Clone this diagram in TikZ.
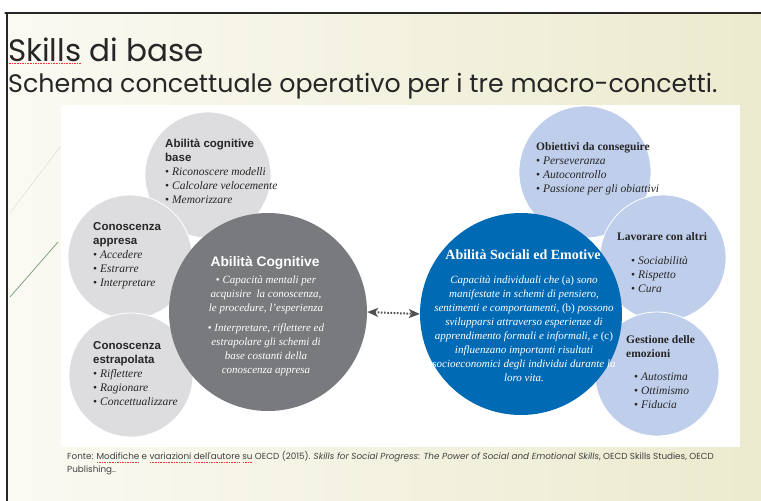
\documentclass[tikz,border=0pt]{standalone}
\usepackage{fontspec}
\setmainfont{Liberation Serif}
\newfontfamily\headfont{Liberation Sans}
\newfontfamily\slidefont{Poppins}
\usetikzlibrary{arrows.meta}
\definecolor{cogngray}{RGB}{121,122,125}
\definecolor{subgray}{RGB}{221,221,223}
\definecolor{socblue}{RGB}{0,106,181}
\definecolor{subblue}{RGB}{191,206,235}
\definecolor{slideleft}{RGB}{250,250,243}
\definecolor{slideright}{RGB}{236,234,206}
\definecolor{arrowgray}{RGB}{80,80,80}
\newcommand{\spellerr}[1]{\setbox0\hbox{#1}\leavevmode\rlap{\raisebox{-2.6pt}{\textcolor{red!80}{\hbox to \wd0{\xleaders\hbox to 1.6pt{\hss\rule{.8pt}{.5pt}\hss}\hfil}}}}\box0\relax}
\newcommand{\sanshead}[1]{{\headfont\bfseries #1}}
\newcommand{\bitem}[1]{\textbullet\ \textit{#1}}

\begin{document}
\begin{tikzpicture}[x=1pt,y=-1pt,line cap=round,line join=round,
  subc/.style={circle,inner sep=0pt,minimum size=#1,draw=white,line width=.8pt},
  maincirc/.style={circle,inner sep=0pt,minimum size=#1},
  sublabel/.style={inner sep=0pt,align=left,anchor=north west,text=black!85,font=\fontsize{11.5}{14}\selectfont},
  midlabel/.style={inner sep=0pt,align=center,anchor=north,text=white,font=\fontsize{11}{14}\selectfont}]
\path[use as bounding box] (0,0) rectangle (761,501);
\fill[white] (0,0) rectangle (761,501);
\shade[left color=slideleft,right color=slideright] (7,13) rectangle (761,501);
\draw[black!85,line width=1.3pt] (5,13) -- (761,13);
\draw[black!85,line width=1.3pt] (7,13) -- (7,501);
% theme strokes
\draw[black!12,line width=.6pt] (10,213) -- (60,147);
\draw[green!30!black!55,line width=.7pt] (10,297) -- (58,242);
% titles
\node[anchor=base west,inner sep=0pt,text=black!85,font=\slidefont\fontsize{31}{36}\selectfont] (title) at (8,61) {\spellerr{Skills} di base};
\node[anchor=base west,inner sep=0pt,text=black!85,font=\slidefont\fontsize{25.3}{30}\selectfont] (subtitle) at (8,92) {Schema concettuale operativo per i tre macro-concetti.};
% panel
\fill[white] (61,105) rectangle (740,447);
% cognitive side
\node[subc=126pt,fill=subgray] (cogbase) at (208,175) {};
\node[subc=124pt,fill=subgray] (knowacq) at (130,257) {};
\node[subc=124pt,fill=subgray] (knowext) at (131,375) {};
\node[maincirc=198pt,fill=cogngray] (cogn) at (268,312) {};
% social side
\node[subc=132pt,fill=subblue] (goals) at (585,172) {};
\node[subc=126pt,fill=subblue] (others) at (663,258) {};
\node[subc=124pt,fill=subblue] (emotions) at (657,374) {};
\node[maincirc=202pt,fill=socblue] (soc) at (521,314) {};
\draw[arrowgray,line width=2pt,dash pattern=on 1.6pt off 1.6pt,line cap=butt,
  {Stealth[length=11pt,width=9pt,inset=3pt]}-{Stealth[length=11pt,width=9pt,inset=3pt]}] (cogn.east) -- (soc.west);
% labels, cognitive
\node[sublabel] (cogbasetxt) at (165,139) {\sanshead{Abilità cognitive}\\\sanshead{base}\\\bitem{Riconoscere modelli}\\\bitem{Calcolare velocemente}\\\bitem{Memorizzare}};
\node[sublabel] (knowacqtxt) at (93,222) {\sanshead{Conoscenza}\\\sanshead{appresa}\\\bitem{Accedere}\\\bitem{Estrarre}\\\bitem{Interpretare}};
\node[sublabel] (knowexttxt) at (93,341) {\sanshead{Conoscenza}\\\sanshead{estrapolata}\\\bitem{Riflettere}\\\bitem{Ragionare}\\\bitem{Concettualizzare}};
\node[inner sep=0pt,text=white,font=\headfont\bfseries\fontsize{13.8}{16}\selectfont] (cogntitle) at (265,263) {Abilità Cognitive};
\node[midlabel] (cogntxt) at (266,276) {\textbullet\ \textit{Capacità mentali per}\\\textit{acquisire\ \ la conoscenza,}\\\textit{le procedure, l'esperienza}\\[6pt]\textbullet\ \textit{Interpretare, riflettere ed}\\\textit{estrapolare gli schemi di}\\\textit{base costanti della}\\\textit{conoscenza appresa}};
% labels, social
\node[sublabel] (goalstxt) at (536,142) {\textbf{Obiettivi da conseguire}\\\bitem{Perseveranza}\\\bitem{Autocontrollo}\\\bitem{Passione per gli obiattivi}};
\node[sublabel] (otherstitle) at (617,232) {\textbf{Lavorare con altri}};
\node[sublabel] (otherstxt) at (631,256) {\bitem{Sociabilità}\\\bitem{Rispetto}\\\bitem{Cura}};
\node[sublabel] (emotionstitle) at (626,335) {\textbf{Gestione delle}\\\textbf{emozioni}};
\node[sublabel] (emotionstxt) at (634,373) {\bitem{Autostima}\\\bitem{Ottimismo}\\\bitem{Fiducia}};
\node[inner sep=0pt,text=white,font=\bfseries\fontsize{14}{16}\selectfont] (soctitle) at (523,255) {Abilità Sociali ed Emotive};
\node[midlabel] (soctxt) at (524,276) {\textit{Capacità individuali che \textup{(a)} sono}\\\textit{manifestate in schemi di pensiero,}\\\textit{sentimenti e comportamenti, \textup{(b)} possono}\\\textit{svilupparsi attraverso esperienze di}\\\textit{apprendimento formali e informali, e \textup{(c)}}\\\textit{influenzano importanti risultati}\\\textit{socioeconomici degli individui durante la}\\\textit{loro vita.}};
% source
\node[inner sep=0pt,anchor=north west,align=left,text=black!75,font=\slidefont\fontsize{8.8}{13}\selectfont] (source) at (67,451) {Fonte: \spellerr{Modifiche} e \spellerr{variazioni} \spellerr{dell'autore} \spellerr{su} OECD (2015). \textit{Skills for Social Progress: The Power of Social and Emotional Skills}, OECD Skills Studies, OECD\\Publishing..};
\end{tikzpicture}
\end{document}
